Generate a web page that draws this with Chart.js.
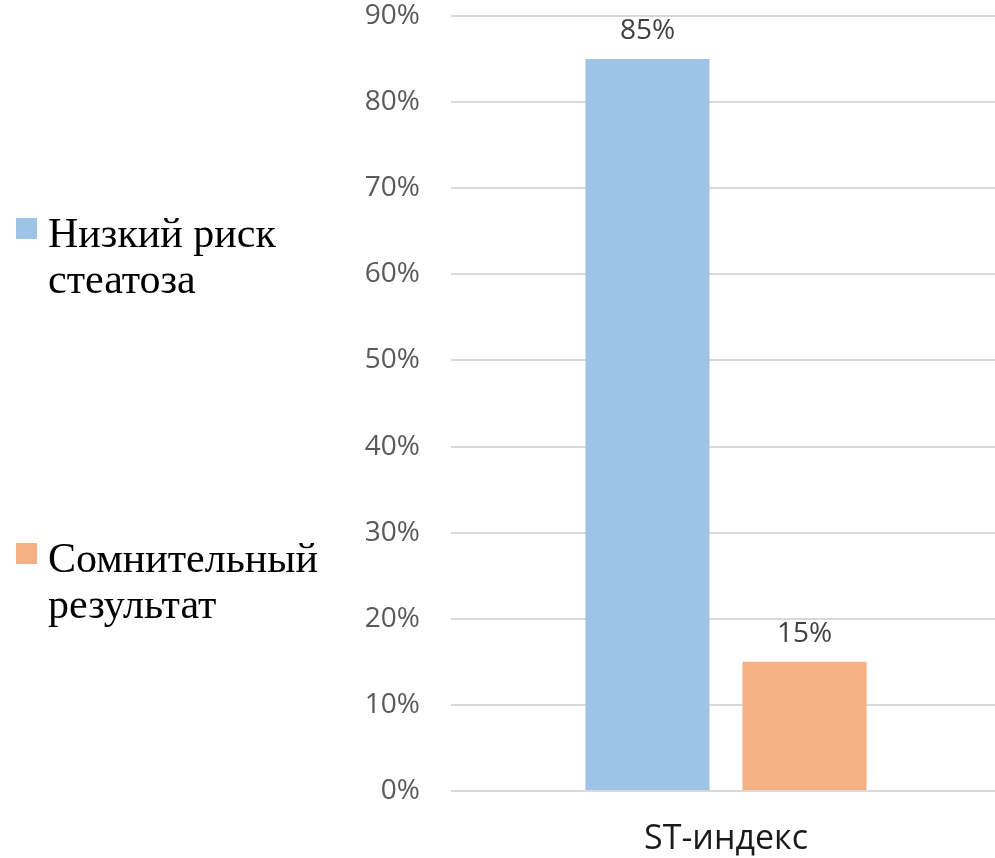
<!DOCTYPE html>
<html lang="ru">
<head>
<meta charset="utf-8">
<script src="https://cdn.jsdelivr.net/npm/chart.js@4"></script>
<style>
    html, body {
        margin: 0;
        padding: 0;
        background: #ffffff;
        overflow: hidden;
    }
    .wrap {
        position: relative;
        width: 1002px;
        height: 858px;
    }
    .legend {
        position: absolute;
        left: 16px;
        width: 320px;
        font-family: "Liberation Serif", "Times New Roman", serif;
        font-size: 42px;
        line-height: 46px;
        color: #000000;
    }
    .legend .box {
        position: absolute;
        left: 0;
        top: 8px;
        width: 21px;
        height: 21px;
    }
    .legend .txt {
        margin-left: 32px;
    }
</style>
</head>
<body>
<div class="wrap">
    <canvas id="myChart" width="1002" height="858"></canvas>
    <div id="legend"></div>
</div>
<script>
// data
const categories = ["ST-индекс"];
const seriesNames = ["Низкий риск стеатоза", "Сомнительный результат"];
const lowRisk = [85];
const doubtful = [15];
const yTicks = [0, 10, 20, 30, 40, 50, 60, 70, 80, 90];

// colors
const barColors = ["#9dc3e6", "#f4b183"];

// legend (html, serif like the original)
const legendTops = [210, 535];
const legendLines = [["Низкий риск", "стеатоза"], ["Сомнительный", "результат"]];
const legendBox = document.getElementById('legend');
seriesNames.forEach((name, i) => {
    const item = document.createElement('div');
    item.className = 'legend';
    item.style.top = legendTops[i] + 'px';
    item.innerHTML = '<span class="box" style="background:' + barColors[i] + '"></span>' +
        '<div class="txt">' + legendLines[i].join('<br>') + '</div>';
    item.title = name;
    legendBox.appendChild(item);
});

// value labels above the bars
const valueLabels = {
    id: 'valueLabels',
    afterDatasetsDraw(chart) {
        const ctx = chart.ctx;
        ctx.save();
        ctx.font = '28px "Open Sans"';
        ctx.fillStyle = '#404040';
        ctx.textAlign = 'center';
        ctx.textBaseline = 'alphabetic';
        chart.data.datasets.forEach((ds, i) => {
            chart.getDatasetMeta(i).data.forEach((bar, j) => {
                ctx.fillText(ds.data[j] + '%', bar.x, bar.y - 20);
            });
        });
        ctx.restore();
    }
};

const ctx = document.getElementById('myChart');

new Chart(ctx, {
    type: 'bar',
    data: {
        labels: categories,
        datasets: [
            { label: seriesNames[0], data: lowRisk, backgroundColor: barColors[0] },
            { label: seriesNames[1], data: doubtful, backgroundColor: barColors[1] }
        ]
    },
    options: {
        responsive: false,
        animation: false,
        devicePixelRatio: 1,
        layout: {
            padding: { left: 351, top: 16, right: 1, bottom: 0 }
        },
        plugins: {
            legend: { display: false },
            tooltip: { enabled: false }
        },
        datasets: {
            bar: {
                categoryPercentage: 0.571,
                barPercentage: 0.79
            }
        },
        scales: {
            x: {
                grid: { display: false, drawTicks: false },
                border: { display: false },
                ticks: {
                    padding: 28,
                    color: '#1a1a1a',
                    font: { family: '"Open Sans"', size: 34 }
                },
                afterFit: scale => { scale.height = 67; }
            },
            y: {
                min: 0,
                max: 90,
                afterBuildTicks: scale => {
                    scale.ticks = yTicks.map(v => ({ value: v }));
                },
                grid: { color: '#d9d9d9', lineWidth: 2, drawTicks: false },
                border: { display: false },
                ticks: {
                    padding: 31,
                    color: '#595959',
                    font: { family: '"Open Sans"', size: 28 },
                    callback: v => v + '%'
                },
                afterFit: scale => {
                    scale.width = 100;
                    scale.paddingTop = 0;
                    scale.paddingBottom = 0;
                }
            }
        }
    },
    plugins: [valueLabels]
});
</script>
</body>
</html>
